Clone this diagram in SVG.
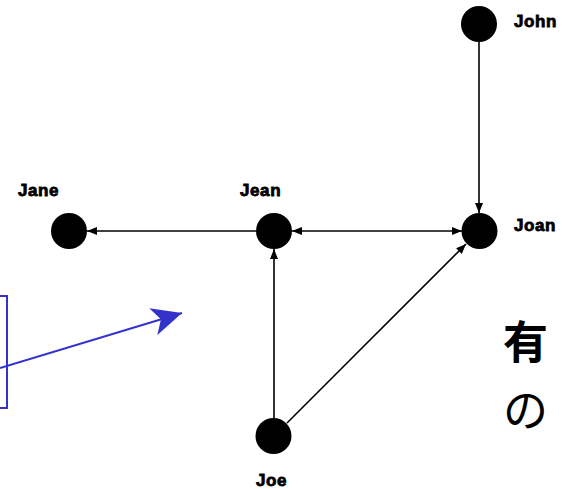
<svg xmlns="http://www.w3.org/2000/svg" width="562" height="489" viewBox="0 0 562 489">
<style>
.node{fill:#000}
.lbl{font-family:"Liberation Sans",Arial,sans-serif;font-weight:bold;font-size:17px;letter-spacing:0.6px;fill:#000;stroke:#000;stroke-width:0.8px}
.edge{stroke:#000;stroke-width:1.6;fill:none}
.cjk{font-family:"Noto Sans CJK JP","Noto Sans CJK SC",sans-serif;font-size:45px;fill:#000}
</style>
<defs>
<marker id="ah" viewBox="0 0 10 8" refX="10" refY="4" markerWidth="10" markerHeight="8" markerUnits="userSpaceOnUse" orient="auto-start-reverse">
<path d="M0,0 L10,4 L0,8 Z" fill="#000"/>
</marker>
<marker id="bh" viewBox="0 0 30 28" refX="30" refY="14" markerWidth="30" markerHeight="28" markerUnits="userSpaceOnUse" orient="auto">
<path d="M0,0 L30,14 L0,28 L8,14 Z" fill="#3333cc"/>
</marker>
</defs>
<g id="connectors">
<line class="edge" x1="256" y1="231" x2="87" y2="231" marker-end="url(#ah)"/>
<line class="edge" x1="292" y1="231" x2="462" y2="231" marker-start="url(#ah)" marker-end="url(#ah)"/>
<line class="edge" x1="479" y1="42" x2="479" y2="213" marker-end="url(#ah)"/>
<line class="edge" x1="274" y1="418" x2="274" y2="249" marker-end="url(#ah)"/>
<line class="edge" x1="287" y1="423" x2="466" y2="244" marker-end="url(#ah)"/>
</g>
<g id="callout">
<rect x="-10" y="296" width="17" height="112" fill="none" stroke="#3333cc" stroke-width="2"/>
<line x1="0" y1="368" x2="182" y2="313" stroke="#3333cc" stroke-width="2" marker-end="url(#bh)"/>
</g>
<g id="John"><circle class="node" cx="479" cy="24" r="18"/><text class="lbl" x="514" y="27">John</text></g>
<g id="Joan"><circle class="node" cx="479.5" cy="231" r="18"/><text class="lbl" x="514" y="231">Joan</text></g>
<g id="Jean"><circle class="node" cx="274" cy="231" r="18"/><text class="lbl" x="240" y="196">Jean</text></g>
<g id="Jane"><circle class="node" cx="69" cy="231" r="18"/><text class="lbl" x="18" y="196">Jane</text></g>
<g id="Joe"><circle class="node" cx="273.5" cy="436" r="18"/><text class="lbl" x="256" y="486">Joe</text></g>
<g id="title">
<text class="cjk" x="503" y="359" font-weight="bold">有</text>
<text class="cjk" x="503" y="427">の</text>
</g>
</svg>
